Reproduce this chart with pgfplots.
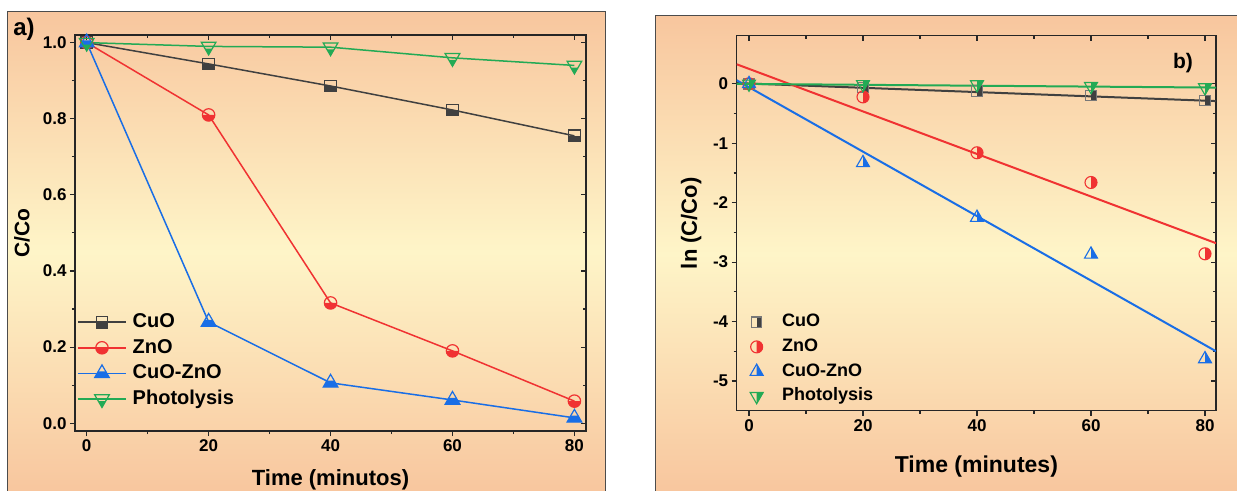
\documentclass[border=0pt]{standalone}
\usepackage{fontspec}
\setmainfont{Liberation Sans}
\usepackage{pgfplots}
\pgfplotsset{compat=1.18}

\definecolor{cuo}{RGB}{64,64,64}
\definecolor{cuob}{RGB}{120,120,120}
\definecolor{zno}{RGB}{240,50,50}
\definecolor{cz}{RGB}{25,110,230}
\definecolor{ph}{RGB}{35,170,85}
\definecolor{peach}{RGB}{248,198,158}
\definecolor{lyel}{RGB}{254,245,200}

% lower-half filled marks
\pgfdeclareplotmark{sqB}{%
 \pgfpathrectangle{\pgfqpoint{-\pgfplotmarksize}{-\pgfplotmarksize}}{\pgfqpoint{2\pgfplotmarksize}{\pgfplotmarksize}}%
 \pgfusepathqfill
 \pgfpathrectangle{\pgfqpoint{-\pgfplotmarksize}{-\pgfplotmarksize}}{\pgfqpoint{2\pgfplotmarksize}{2\pgfplotmarksize}}%
 \pgfusepathqstroke}
\pgfdeclareplotmark{ciB}{%
 \pgfpathmoveto{\pgfqpoint{-\pgfplotmarksize}{0pt}}%
 \pgfpatharc{180}{360}{\pgfplotmarksize}%
 \pgfpathclose\pgfusepathqfill
 \pgfpathcircle{\pgfpointorigin}{\pgfplotmarksize}\pgfusepathqstroke}
\pgfdeclareplotmark{tuB}{%
 \pgfpathmoveto{\pgfqpoint{-.866\pgfplotmarksize}{-.5\pgfplotmarksize}}%
 \pgfpathlineto{\pgfqpoint{.866\pgfplotmarksize}{-.5\pgfplotmarksize}}%
 \pgfpathlineto{\pgfqpoint{.433\pgfplotmarksize}{.25\pgfplotmarksize}}%
 \pgfpathlineto{\pgfqpoint{-.433\pgfplotmarksize}{.25\pgfplotmarksize}}%
 \pgfpathclose\pgfusepathqfill
 \pgfpathmoveto{\pgfqpoint{0pt}{\pgfplotmarksize}}%
 \pgfpathlineto{\pgfqpoint{-.866\pgfplotmarksize}{-.5\pgfplotmarksize}}%
 \pgfpathlineto{\pgfqpoint{.866\pgfplotmarksize}{-.5\pgfplotmarksize}}%
 \pgfpathclose\pgfusepathqstroke}
\pgfdeclareplotmark{tdB}{%
 \pgfpathmoveto{\pgfqpoint{0pt}{-\pgfplotmarksize}}%
 \pgfpathlineto{\pgfqpoint{.433\pgfplotmarksize}{-.25\pgfplotmarksize}}%
 \pgfpathlineto{\pgfqpoint{-.433\pgfplotmarksize}{-.25\pgfplotmarksize}}%
 \pgfpathclose\pgfusepathqfill
 \pgfpathmoveto{\pgfqpoint{0pt}{-\pgfplotmarksize}}%
 \pgfpathlineto{\pgfqpoint{.866\pgfplotmarksize}{.5\pgfplotmarksize}}%
 \pgfpathlineto{\pgfqpoint{-.866\pgfplotmarksize}{.5\pgfplotmarksize}}%
 \pgfpathclose\pgfusepathqstroke}
% right-half filled marks
\pgfdeclareplotmark{sqR}{%
 \pgfpathrectangle{\pgfqpoint{0pt}{-\pgfplotmarksize}}{\pgfqpoint{\pgfplotmarksize}{2\pgfplotmarksize}}%
 \pgfusepathqfill
 \pgfpathrectangle{\pgfqpoint{-\pgfplotmarksize}{-\pgfplotmarksize}}{\pgfqpoint{2\pgfplotmarksize}{2\pgfplotmarksize}}%
 \pgfusepathqstroke}
\pgfdeclareplotmark{ciR}{%
 \pgfpathmoveto{\pgfqpoint{0pt}{-\pgfplotmarksize}}%
 \pgfpatharc{-90}{90}{\pgfplotmarksize}%
 \pgfpathclose\pgfusepathqfill
 \pgfpathcircle{\pgfpointorigin}{\pgfplotmarksize}\pgfusepathqstroke}
\pgfdeclareplotmark{tuR}{%
 \pgfpathmoveto{\pgfqpoint{0pt}{\pgfplotmarksize}}%
 \pgfpathlineto{\pgfqpoint{0pt}{-.5\pgfplotmarksize}}%
 \pgfpathlineto{\pgfqpoint{.866\pgfplotmarksize}{-.5\pgfplotmarksize}}%
 \pgfpathclose\pgfusepathqfill
 \pgfpathmoveto{\pgfqpoint{0pt}{\pgfplotmarksize}}%
 \pgfpathlineto{\pgfqpoint{-.866\pgfplotmarksize}{-.5\pgfplotmarksize}}%
 \pgfpathlineto{\pgfqpoint{.866\pgfplotmarksize}{-.5\pgfplotmarksize}}%
 \pgfpathclose\pgfusepathqstroke}
\pgfdeclareplotmark{tdR}{%
 \pgfpathmoveto{\pgfqpoint{0pt}{-\pgfplotmarksize}}%
 \pgfpathlineto{\pgfqpoint{.866\pgfplotmarksize}{.5\pgfplotmarksize}}%
 \pgfpathlineto{\pgfqpoint{0pt}{.5\pgfplotmarksize}}%
 \pgfpathclose\pgfusepathqfill
 \pgfpathmoveto{\pgfqpoint{0pt}{-\pgfplotmarksize}}%
 \pgfpathlineto{\pgfqpoint{.866\pgfplotmarksize}{.5\pgfplotmarksize}}%
 \pgfpathlineto{\pgfqpoint{-.866\pgfplotmarksize}{.5\pgfplotmarksize}}%
 \pgfpathclose\pgfusepathqstroke}

\pgfplotsset{
 base/.style={scale only axis, axis line style={line width=1.2pt, black!85},
   tick style={line width=1.1pt, black!85}, major tick length=5pt, minor tick length=3pt,
   minor x tick num=1, minor y tick num=1,
   /pgf/number format/assume math mode=true,
   tick label style={font=\fontsize{17}{17}\selectfont\bfseries, black}},
 panelA/.style={base, width=511pt, height=396pt, at={(75pt,59pt)}, anchor=south west,
   xmin=-1.92, xmax=81.9, ymin=-0.0205, ymax=1.02,
   xtick={0,20,40,60,80}, ytick={0,0.2,0.4,0.6,0.8,1.0}},
 panelB/.style={base, width=479.3pt, height=375pt, at={(736.7pt,79.3pt)}, anchor=south west,
   xmin=-2.16, xmax=81.93, ymin=-5.5, ymax=0.81,
   xtick={0,20,40,60,80}, ytick={-5,-4,-3,-2,-1,0}},
}

\begin{document}
\begin{tikzpicture}[x=1pt,y=1pt]
\useasboundingbox (0,0) rectangle (1237,490);
\fill[white] (0,0) rectangle (1237,490);
\shade[top color=peach, bottom color=peach, middle color=lyel] (7,-2) rectangle (605,478);
\draw[black!70, line width=1pt] (7,-3) -- (7,478) -- (605,478) -- (605,-3);
\shade[top color=peach, bottom color=peach, middle color=lyel] (655,-2) rectangle (1240,474);
\draw[black!70, line width=1pt] (655,-3) -- (655,474) -- (1240,474);
\node[font=\fontsize{24}{24}\selectfont\bfseries] at (24,461) {a)};
\node[font=\fontsize{21}{21}\selectfont\bfseries] at (1183,427) {b)};

% ---------- panel a ----------
\begin{axis}[panelA, tick pos=right, tick align=inside, xticklabels={}, yticklabels={}]
\end{axis}
\begin{axis}[panelA, tick pos=left, tick align=outside,
  yticklabels={0.0,0.2,0.4,0.6,0.8,1.0},
  xlabel={Time (minutos)}, ylabel={C/Co},
  xlabel style={font=\fontsize{22}{22}\selectfont\bfseries, at={(axis description cs:0.5,-0.1385)}, anchor=base},
  ylabel style={font=\fontsize{21}{21}\selectfont\bfseries, at={(axis description cs:-0.104,0.5)}, anchor=center},
  legend style={at={(axis description cs:0.004,0.3037)}, anchor=north west, draw=none, fill=none,
    inner sep=0pt, row sep=3.1pt, font=\fontsize{20}{20}\selectfont\bfseries,
    nodes={inner sep=2pt, text height=14.5pt, text depth=4pt},
    /tikz/every odd column/.style={column sep=4pt}},
  legend cell align=left,
  legend image code/.code={\draw[mark repeat=2,mark phase=2,#1] plot coordinates {(0pt,0pt) (24pt,0pt) (48pt,0pt)};}]
\addplot[cuo, line width=1.5pt, mark=sqB, mark size=5.8pt, mark options={solid, line width=1.2pt, draw=cuo, fill=cuo}]
  coordinates {(0,1.0) (20,0.944) (40,0.886) (60,0.823) (80,0.755)};
\addlegendentry{CuO}
\addplot[zno, line width=1.5pt, mark=ciB, mark size=6.2pt, mark options={solid, line width=1.2pt, draw=zno, fill=zno}]
  coordinates {(0,1.0) (20,0.81) (40,0.316) (60,0.19) (80,0.058)};
\addlegendentry{ZnO}
\addplot[cz, line width=1.5pt, mark=tuB, mark size=8.5pt, mark options={solid, line width=1.2pt, draw=cz, fill=cz}]
  coordinates {(0,1.0) (20,0.266) (40,0.106) (60,0.061) (80,0.014)};
\addlegendentry{CuO-ZnO}
\addplot[ph, line width=1.5pt, mark=tdB, mark size=8.5pt, mark options={solid, line width=1.2pt, draw=ph, fill=ph}]
  coordinates {(0,1.0) (20,0.99) (40,0.988) (60,0.96) (80,0.94)};
\addlegendentry{Photolysis}
\end{axis}

% ---------- panel b ----------
\begin{axis}[panelB, tick pos=right, tick align=inside, xticklabels={}, yticklabels={}]
\end{axis}
\begin{axis}[panelB, tick pos=left, tick align=outside,
  xlabel={Time (minutes)}, ylabel={ln (C/Co)},
  xlabel style={font=\fontsize{23}{23}\selectfont\bfseries, at={(axis description cs:0.5,-0.166)}, anchor=base},
  ylabel style={font=\fontsize{22}{22}\selectfont\bfseries, at={(axis description cs:-0.095,0.5)}, anchor=center},
  legend style={at={(axis description cs:0.0277,0.264)}, anchor=north west, draw=none, fill=none,
    inner sep=0pt, row sep=4.1pt, font=\fontsize{18}{18}\selectfont\bfseries,
    nodes={inner sep=2pt, text height=13pt, text depth=3.6pt},
    /tikz/every odd column/.style={column sep=17pt}},
  legend cell align=left,
  legend image code/.code={\draw[mark repeat=2,mark phase=2,#1] plot coordinates {(0pt,0pt) (10pt,0pt) (20pt,0pt)};}]
\addplot[only marks, mark=sqR, mark size=5.2pt, mark options={line width=1.1pt, draw=cuob, fill=cuo}]
  coordinates {(0,0) (20,-0.058) (40,-0.121) (60,-0.195) (80,-0.281)};
\addlegendentry{CuO}
\addplot[only marks, mark=ciR, mark size=6pt, mark options={line width=1.1pt, draw=zno, fill=zno}]
  coordinates {(0,0) (20,-0.22) (40,-1.16) (60,-1.66) (80,-2.86)};
\addlegendentry{ZnO}
\addplot[only marks, mark=tuR, mark size=7.5pt, mark options={line width=1.1pt, draw=cz, fill=cz}]
  coordinates {(0,0) (20,-1.33) (40,-2.25) (60,-2.87) (80,-4.63)};
\addlegendentry{CuO-ZnO}
\addplot[only marks, mark=tdR, mark size=7.5pt, mark options={line width=1.1pt, draw=ph, fill=ph}]
  coordinates {(0,0) (20,-0.01) (40,-0.012) (60,-0.041) (80,-0.062)};
\addlegendentry{Photolysis}
% linear fits
\addplot[cuo, line width=2pt, forget plot] coordinates {(-2.16,0.013) (81.93,-0.29)};
\addplot[zno, line width=2pt, forget plot] coordinates {(-2.16,0.329) (81.93,-2.681)};
\addplot[cz, line width=2pt, forget plot] coordinates {(-2.16,0.06) (81.93,-4.50)};
\addplot[ph, line width=2pt, forget plot] coordinates {(-2.16,0.0) (81.93,-0.063)};
\end{axis}
\end{tikzpicture}
\end{document}
